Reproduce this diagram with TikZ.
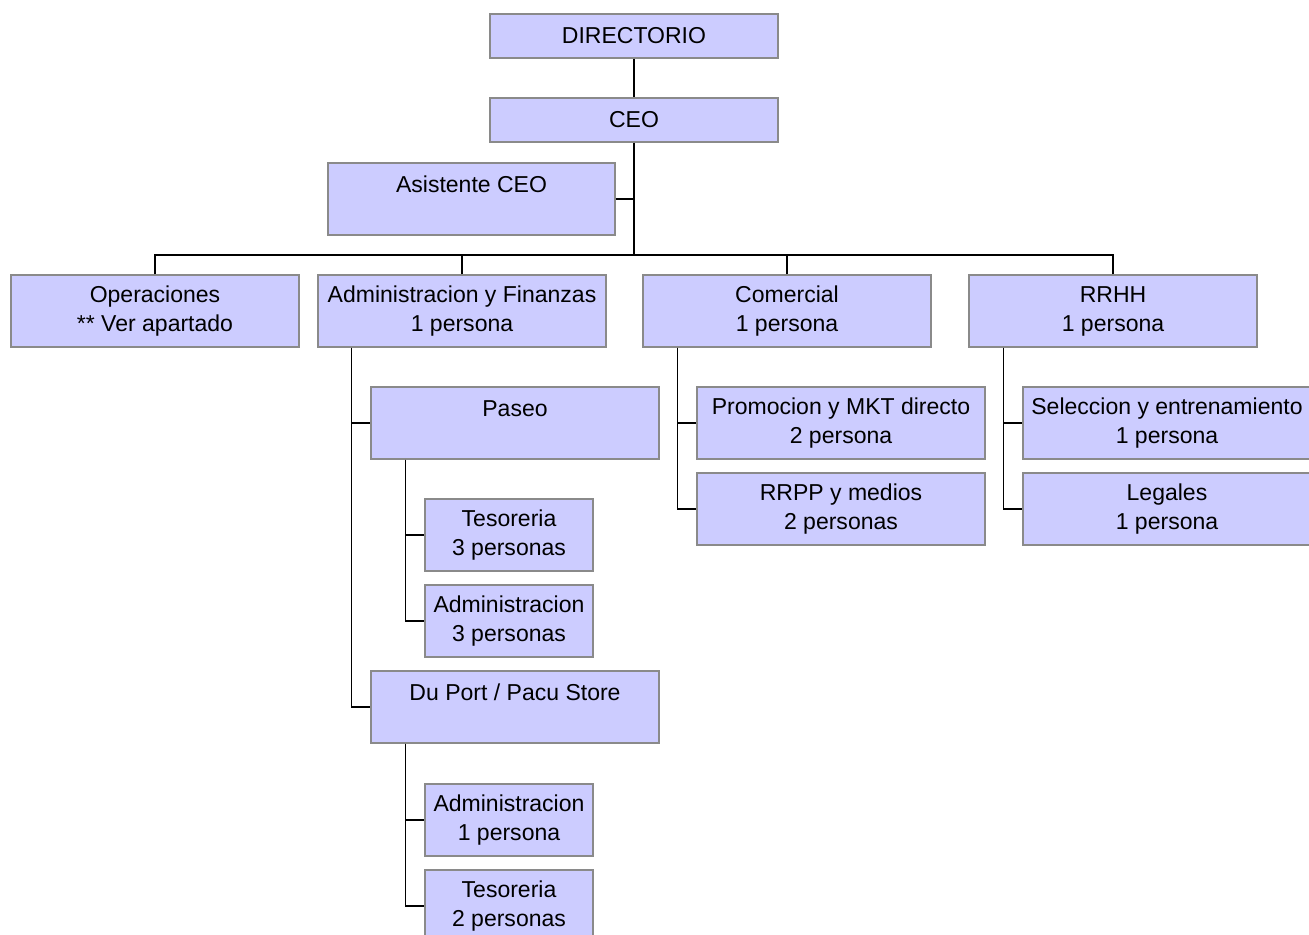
\documentclass[tikz,border=0pt]{standalone}
\usepackage{fontspec}
\setmainfont{Liberation Sans}
\usepackage{xcolor}
\usetikzlibrary{positioning}
\definecolor{Org_Fill}{HTML}{CCCCFF}
\definecolor{Org_Line}{HTML}{8A8A8A}

\begin{document}
\begin{tikzpicture}[x=0.02cm, y=-0.02cm,
    orgbox/.style={rectangle, draw=Org_Line, line width=0.8pt, fill=Org_Fill, inner sep=0pt,
        minimum width=5.76cm, minimum height=1.44cm, align=center,
        font=\fontsize{13.1}{16.5}\selectfont},
    topbox/.style={orgbox, minimum height=0.88cm},
    smallbox/.style={orgbox, minimum width=3.36cm},
    link/.style={draw=black, line width=0.7pt}]
    \useasboundingbox (0,0) rectangle (1309,935);

    % ===== Top level =====
    \node[topbox] (dir) at (634,36) {DIRECTORIO};
    \node[topbox] (ceo) at (634,120) {CEO};
    \node[orgbox, minimum width=5.74cm] (asis) at (471.5,199) {Asistente CEO\\~};

    % ===== Areas =====
    \node[orgbox] (ops) at (155,311) {Operaciones\\** Ver apartado};
    \node[orgbox] (adm) at (462,311) {Administracion y Finanzas\\1 persona};
    \node[orgbox] (com) at (787,311) {Comercial\\1 persona};
    \node[orgbox] (rrhh) at (1113,311) {RRHH\\1 persona};

    % ===== Administracion y Finanzas =====
    \node[orgbox] (paseo) at (515,423) {Paseo\\~};
    \node[smallbox] (tesA) at (509,535) {Tesoreria\\3 personas};
    \node[smallbox] (admA) at (509,621) {Administracion\\3 personas};
    \node[orgbox] (duport) at (515,707) {Du Port / Pacu Store\\~};
    \node[smallbox] (admB) at (509,820) {Administracion\\1 persona};
    \node[smallbox] (tesB) at (509,906) {Tesoreria\\2 personas};

    % ===== Comercial =====
    \node[orgbox] (promo) at (841,423) {Promocion y MKT directo\\2 persona};
    \node[orgbox] (rrpp) at (841,509) {RRPP y medios\\2 personas};

    % ===== RRHH =====
    \node[orgbox] (sel) at (1167,423) {Seleccion y entrenamiento\\1 persona};
    \node[orgbox] (leg) at (1167,509) {Legales\\1 persona};

    % Connectors
    \coordinate (bus) at (634,255);
    \draw[link] (dir.south) -- (ceo.north);
    \draw[link] (ceo.south) -- (bus);
    \draw[link] (asis.east) -- (asis.east -| ceo.south);
    \foreach \area in {ops, adm, com, rrhh}
        \draw[link] (\area.north) |- (bus);

    \draw[link] ([xshift=0.68cm]adm.south west) |- (paseo.west);
    \draw[link] ([xshift=0.68cm]adm.south west) |- (duport.west);
    \draw[link] ([xshift=0.7cm]paseo.south west) |- (tesA.west);
    \draw[link] ([xshift=0.7cm]paseo.south west) |- (admA.west);
    \draw[link] ([xshift=0.7cm]duport.south west) |- (admB.west);
    \draw[link] ([xshift=0.7cm]duport.south west) |- (tesB.west);
    \draw[link] ([xshift=0.7cm]com.south west) |- (promo.west);
    \draw[link] ([xshift=0.7cm]com.south west) |- (rrpp.west);
    \draw[link] ([xshift=0.7cm]rrhh.south west) |- (sel.west);
    \draw[link] ([xshift=0.7cm]rrhh.south west) |- (leg.west);
\end{tikzpicture}
\end{document}
